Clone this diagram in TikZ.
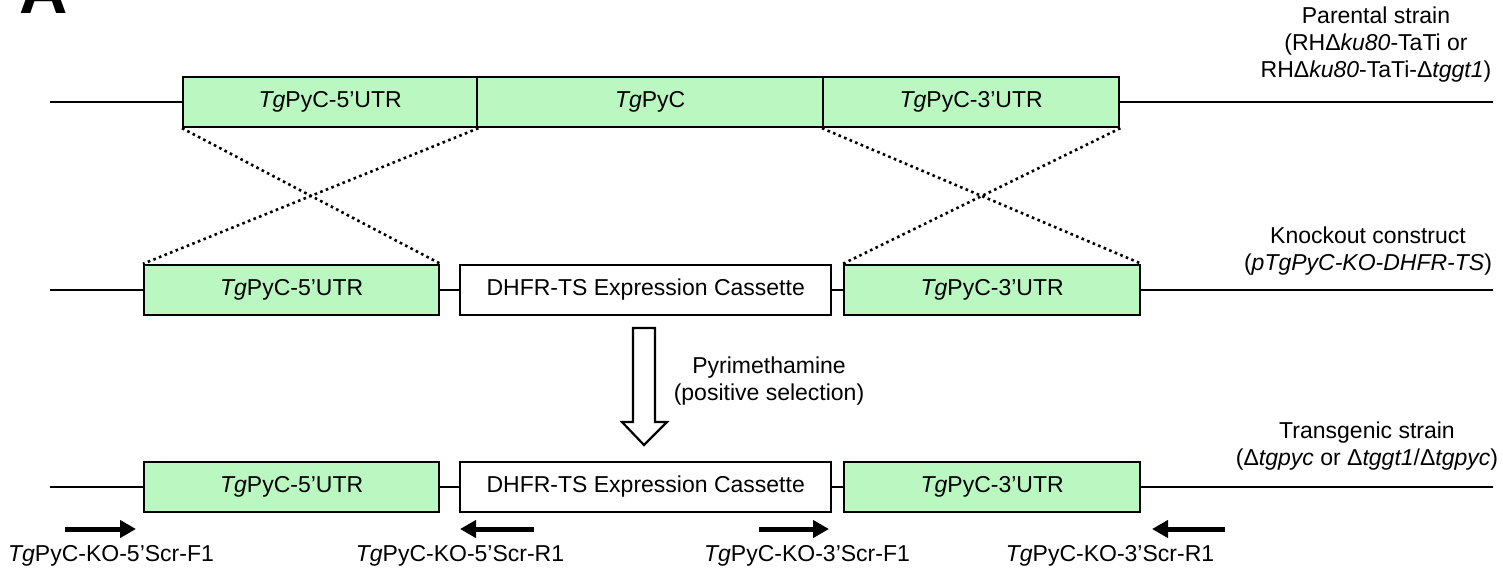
\documentclass[tikz,border=0pt]{standalone}
\usepackage{fontspec}
\setmainfont{Liberation Sans}
\usetikzlibrary{arrows.meta}
\definecolor{boxgreen}{RGB}{187,247,193}
\begin{document}
\begin{tikzpicture}[x=1pt,y=-1pt,
  seg/.style={draw, line width=2.4pt, minimum height=50pt, inner sep=0pt, anchor=west, font=\fontsize{23}{27}\selectfont},
  gbox/.style={seg, fill=boxgreen},
  wbox/.style={seg, fill=white},
  dna/.style={line width=2.4pt},
  xover/.style={line width=2.6pt, dash pattern=on 2.6pt off 3.4pt},
  primer/.style={line width=5pt, -{Triangle[length=16pt,width=17pt]}},
  lbl/.style={font=\fontsize{23}{27}\selectfont, align=center, inner sep=0pt},
  selarrow/.style={line width=2.2pt, fill=white, line join=miter}
]
\useasboundingbox (0,0) rectangle (1503,570);

% panel letter
\node[anchor=base west, inner sep=0pt, font=\fontsize{67}{67}\selectfont\bfseries] (panel) at (19,13) {A};

% row 1: parental
\node[gbox, minimum width=294pt] (p5) at (182,102) {\textit{Tg}PyC-5’UTR};
\node[gbox, minimum width=346pt] (pc) at (476,102) {\textit{Tg}PyC};
\node[gbox, minimum width=296pt] (p3) at (822,102) {\textit{Tg}PyC-3’UTR};
\coordinate (pL) at (50,102);
\coordinate (pR) at (1493,102);
\draw[dna] (pL) -- (p5.west);
\draw[dna] (p3.east) -- (pR);
\node[lbl] (plab) at (1376,45) {Parental strain\\(RHΔ\textit{ku80}-TaTi or\\RHΔ\textit{ku80}-TaTi-Δ\textit{tggt1})};

% row 2: construct
\node[gbox, minimum width=295pt] (k5) at (143,290) {\textit{Tg}PyC-5’UTR};
\node[wbox, minimum width=371pt] (kd) at (459,290) {DHFR-TS Expression Cassette};
\node[gbox, minimum width=296pt] (k3) at (843,290) {\textit{Tg}PyC-3’UTR};
\coordinate (kL) at (50,290);
\coordinate (kR) at (1493,290);
\draw[dna] (kL) -- (k5.west);
\draw[dna] (k5.east) -- (kd.west);
\draw[dna] (kd.east) -- (k3.west);
\draw[dna] (k3.east) -- (kR);
\node[lbl] (klab) at (1368,251) {Knockout construct\\(\textit{pTgPyC-KO-DHFR-TS})};

% crossovers
\draw[xover] (p5.south west) -- (k5.north east);
\draw[xover] (p5.south east) -- (k5.north west);
\draw[xover] (p3.south west) -- (k3.north east);
\draw[xover] (p3.south east) -- (k3.north west);

% selection arrow
\coordinate (sel) at (644,328);
\draw[selarrow] (sel) ++(-11,0) -- ++(22,0) -- ++(0,94) -- ++(12,0) -- (644,445) -- (622,422) -- ++(11,0) -- cycle;
\node[lbl] (slab) at (769,381) {Pyrimethamine\\(positive selection)};

% row 3: transgenic
\node[gbox, minimum width=295pt] (t5) at (143,487) {\textit{Tg}PyC-5’UTR};
\node[wbox, minimum width=371pt] (td) at (459,487) {DHFR-TS Expression Cassette};
\node[gbox, minimum width=296pt] (t3) at (843,487) {\textit{Tg}PyC-3’UTR};
\coordinate (tL) at (50,487);
\coordinate (tR) at (1493,487);
\draw[dna] (tL) -- (t5.west);
\draw[dna] (t5.east) -- (td.west);
\draw[dna] (td.east) -- (t3.west);
\draw[dna] (t3.east) -- (tR);
\node[lbl] (tlab) at (1367,446) {Transgenic strain\\(Δ\textit{tgpyc} or Δ\textit{tggt1}/Δ\textit{tgpyc})};

% primers
\coordinate (f5a) at (65,529);  \coordinate (f5b) at (136,529);
\coordinate (r5a) at (534,529); \coordinate (r5b) at (460,529);
\coordinate (f3a) at (759,529); \coordinate (f3b) at (829,529);
\coordinate (r3a) at (1225,529);\coordinate (r3b) at (1152,529);
\draw[primer] (f5a) -- (f5b);
\draw[primer] (r5a) -- (r5b);
\draw[primer] (f3a) -- (f3b);
\draw[primer] (r3a) -- (r3b);
\node[lbl] (f5lab) at (111,556) {\textit{Tg}PyC-KO-5’Scr-F1};
\node[lbl] (r5lab) at (460,556) {\textit{Tg}PyC-KO-5’Scr-R1};
\node[lbl] (f3lab) at (807,556) {\textit{Tg}PyC-KO-3’Scr-F1};
\node[lbl] (r3lab) at (1110,556) {\textit{Tg}PyC-KO-3’Scr-R1};
\end{tikzpicture}
\end{document}
